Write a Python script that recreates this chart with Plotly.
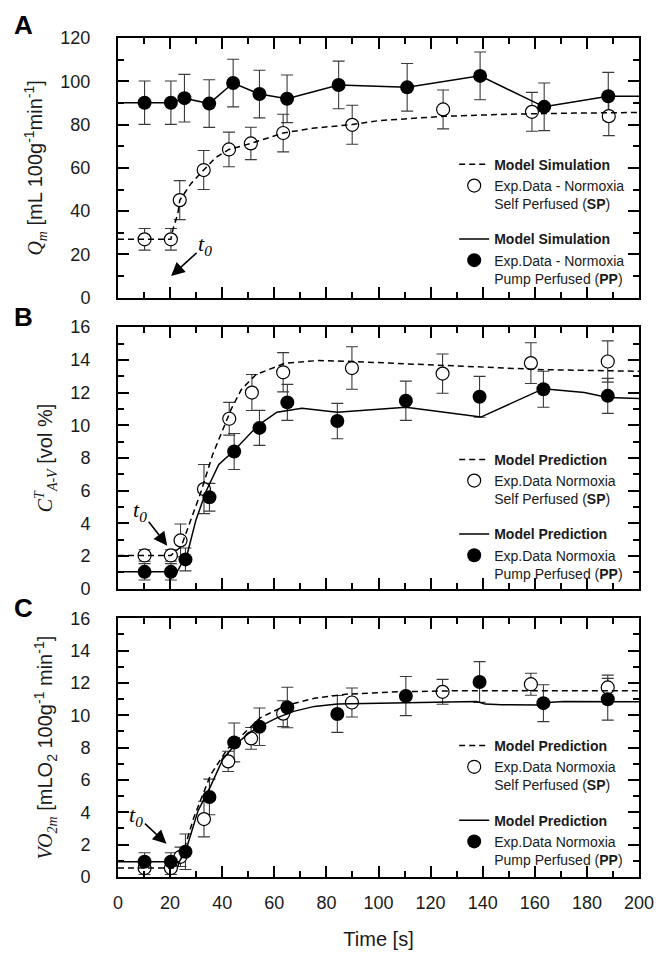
import plotly.graph_objects as go

# ---------------- data ----------------
# Panel A: muscle blood flow Q_m [mL 100g^-1 min^-1]
A_sp_t = [10.2, 20.3, 23.7, 32.9, 42.6, 51.0, 63.4, 89.9, 124.8, 158.9, 188.4]
A_sp_v = [27.0, 27.0, 45.1, 59.0, 68.5, 71.3, 76.1, 79.9, 87.0, 85.9, 83.9]
A_sp_e = [5, 5, 9, 9, 8, 7.5, 8.7, 9, 9, 9, 9]
A_pp_t = [10.2, 20.3, 25.5, 35.0, 44.2, 54.3, 64.9, 84.7, 111.0, 139.0, 163.6, 188.2]
A_pp_v = [90.1, 90.1, 92.2, 89.7, 99.2, 94.1, 91.9, 98.3, 97.2, 102.5, 88.2, 93.1]
A_pp_e = [10, 10, 11, 11, 11, 11, 11, 11, 11, 11, 11, 11]
A_msp_t = [0, 20.3, 21.1, 23.0, 23.7, 28.0, 32.9, 37.5, 42.6, 51.0, 63.4, 74.6, 89.9, 100, 125, 150, 175, 200]
A_msp_v = [27, 27, 31.6, 39, 45, 52.7, 59, 64.8, 68.5, 71.3, 76.1, 78.3, 80, 81.8, 83.8, 84.8, 85.3, 85.6]
A_mpp_t = [0, 10.2, 20.3, 25.5, 35.0, 44.2, 54.3, 64.9, 84.7, 111.0, 139.0, 163.6, 188.2, 200]
A_mpp_v = [90.1, 90.1, 90.1, 92.2, 89.7, 99.2, 94.1, 91.9, 98.3, 97.2, 102.5, 88.2, 93.1, 93.1]

# Panel B: C^T_{A-V} [vol %]
B_sp_t = [10.2, 20.3, 24.0, 33.0, 42.7, 51.4, 63.4, 89.8, 124.6, 158.5, 188.0]
B_sp_v = [2.04, 2.04, 2.96, 6.1, 10.4, 12.0, 13.24, 13.5, 13.16, 13.8, 13.9]
B_sp_e = [0.35, 0.35, 1.0, 1.5, 1.0, 1.1, 1.2, 1.3, 1.2, 1.25, 1.26]
B_pp_t = [10.2, 20.3, 25.9, 35.1, 44.6, 54.3, 65.0, 84.2, 110.5, 138.8, 163.3, 188.0]
B_pp_v = [1.04, 1.04, 1.8, 5.6, 8.4, 9.84, 11.4, 10.26, 11.5, 11.74, 12.2, 11.8]
B_pp_e = [0.5, 0.5, 0.7, 0.85, 1.1, 1.07, 1.1, 1.08, 1.2, 1.25, 1.1, 1.07]
B_msp_t = [0, 20.3, 24.3, 28.3, 32.0, 36.3, 40.3, 43.5, 47.4, 53.0, 64.2, 77.0, 89.8, 110.5, 139.3, 163.3, 200]
B_msp_v = [2.04, 2.04, 2.6, 4.4, 6.0, 8.2, 9.8, 11.0, 12.2, 13.1, 13.8, 13.96, 13.9, 13.76, 13.56, 13.4, 13.3]
B_mpp_t = [0, 22.7, 26.7, 29.9, 33.9, 38.7, 44.2, 49.0, 53.8, 61.0, 70.6, 84.2, 110.5, 139.3, 152.0, 163.3, 179.0, 188.0, 200]
B_mpp_v = [1.04, 1.04, 2.2, 4.2, 6.0, 7.6, 8.4, 9.2, 10.0, 10.8, 11.04, 10.8, 11.1, 10.5, 11.4, 12.24, 12.0, 11.7, 11.64]

# Panel C: VO2m [mLO2 100g^-1 min^-1]
C_sp_t = [10.2, 20.3, 24.0, 33.0, 42.3, 51.1, 63.4, 89.8, 124.6, 158.5, 188.0]
C_sp_v = [0.55, 0.55, 1.25, 3.58, 7.15, 8.57, 10.1, 10.79, 11.45, 11.92, 11.72]
C_sp_e = [0.4, 0.4, 0.6, 1.1, 0.63, 0.67, 0.8, 0.9, 0.77, 0.68, 0.76]
C_pp_t = [10.2, 20.3, 25.9, 35.1, 44.6, 54.3, 65.0, 84.2, 110.5, 138.8, 163.3, 188.0]
C_pp_v = [0.95, 0.95, 1.56, 4.95, 8.32, 9.29, 10.48, 10.08, 11.19, 12.06, 10.75, 10.99]
C_pp_e = [0.55, 0.55, 1.1, 1.1, 1.2, 1.16, 1.25, 1.14, 1.21, 1.26, 1.14, 1.29]
C_msp_t = [0, 22.7, 25.1, 29.1, 35.5, 41.9, 47.4, 54.6, 64.2, 75.4, 88.2, 107.3, 131.3, 200]
C_msp_v = [0.55, 0.55, 1.56, 3.68, 6.3, 7.9, 8.73, 9.84, 10.59, 11.05, 11.31, 11.45, 11.52, 11.52]
C_mpp_t = [0, 23.5, 25.9, 30.7, 35.5, 40.3, 44.6, 49.8, 54.6, 61.0, 67.4, 75.4, 84.2, 99.4, 115.3, 137.7, 140.9, 147.3, 161.7, 164.8, 171.2, 200]
C_mpp_v = [0.95, 0.95, 1.56, 4.08, 5.6, 7.3, 8.12, 8.83, 9.33, 9.84, 10.24, 10.55, 10.7, 10.75, 10.79, 10.85, 10.69, 10.65, 10.63, 10.79, 10.85, 10.83]

panel_letters = ["A", "B", "C"]
model_names = ["Model Simulation", "Model Prediction", "Model Prediction"]
sp_names = ["Exp.Data - Normoxia<br>Self Perfused (<b>SP</b>)",
            "Exp.Data Normoxia<br>Self Perfused (<b>SP</b>)",
            "Exp.Data Normoxia<br>Self Perfused (<b>SP</b>)"]
pp_names = ["Exp.Data - Normoxia<br>Pump Perfused (<b>PP</b>)",
            "Exp.Data Normoxia<br>Pump Perfused (<b>PP</b>)",
            "Exp.Data Normoxia<br>Pump Perfused (<b>PP</b>)"]
serif = "Liberation Serif, Times New Roman, serif"
ytitles = [
    f"<span style='font-family:{serif}'><i>Q</i><sub><i>m</i></sub></span> [mL 100g<sup>-1</sup>min<sup>-1</sup>]",
    f"<span style='font-family:{serif}'><i>C</i><sup><i>T</i></sup><sub><i>A-V</i></sub></span> [vol %]",
    f"<span style='font-family:{serif}'><i>VO</i><sub><i>2m</i></sub></span> [mLO<sub>2</sub> 100g<sup>-1</sup> min<sup>-1</sup>]",
]
yranges = [[0, 120], [0, 16], [0, 16]]
ydticks = [20, 2, 2]
yminor = [10, 1, 1]

panels = [
    (A_sp_t, A_sp_v, A_sp_e, A_pp_t, A_pp_v, A_pp_e, A_msp_t, A_msp_v, A_mpp_t, A_mpp_v),
    (B_sp_t, B_sp_v, B_sp_e, B_pp_t, B_pp_v, B_pp_e, B_msp_t, B_msp_v, B_mpp_t, B_mpp_v),
    (C_sp_t, C_sp_v, C_sp_e, C_pp_t, C_pp_v, C_pp_e, C_msp_t, C_msp_v, C_mpp_t, C_mpp_v),
]

# ---------------- layout geometry ----------------
W, H = 666, 959
ML, MR, MT, MB = 118, 18, 38, 65
PH = H - MT - MB  # 856
ppx = [(38, 303), (333, 600), (630, 894)]
def py(p):
    return (H - MB - p) / PH

font_main = "Liberation Sans, Arial, sans-serif"
fig = go.Figure()

err_col = "#3a3a3a"
for i, (spt, spv, spe, ppt, ppv, ppe, mst, msv, mpt, mpv) in enumerate(panels):
    xa = "x" if i == 0 else f"x{i+1}"
    ya = "y" if i == 0 else f"y{i+1}"
    lg = "legend" if i == 0 else f"legend{i+1}"
    for t, v, e in [(spt, spv, spe), (ppt, ppv, ppe)]:
        fig.add_trace(go.Scatter(x=t, y=v, mode="markers", xaxis=xa, yaxis=ya,
                                 marker=dict(size=1, color="rgba(0,0,0,0)"),
                                 error_y=dict(type="data", array=e, visible=True,
                                              color=err_col, thickness=1.1, width=6),
                                 showlegend=False, hoverinfo="skip"))
    fig.add_trace(go.Scatter(x=spt, y=spv, mode="markers", xaxis=xa, yaxis=ya,
                             name=sp_names[i], legend=lg, legendgroup=f"sp{i}", legendrank=2,
                             marker=dict(symbol="circle", size=13, color="white",
                                         line=dict(color="black", width=1.2))))
    fig.add_trace(go.Scatter(x=ppt, y=ppv, mode="markers", xaxis=xa, yaxis=ya,
                             name=pp_names[i], legend=lg, legendgroup=f"pp{i}", legendrank=4,
                             marker=dict(symbol="circle", size=14, color="black",
                                         line=dict(color="black", width=0))))
    fig.add_trace(go.Scatter(x=mst, y=msv, mode="lines", xaxis=xa, yaxis=ya,
                             name=f"<b>{model_names[i]}</b>", legend=lg, legendgroup=f"sp{i}",
                             legendrank=1,
                             line=dict(color="black", width=1.5, dash="6px,4px")))
    fig.add_trace(go.Scatter(x=mpt, y=mpv, mode="lines", xaxis=xa, yaxis=ya,
                             name=f"<b>{model_names[i]}</b>", legend=lg, legendgroup=f"pp{i}",
                             legendrank=3,
                             line=dict(color="black", width=1.5)))

layout = dict(
    width=W, height=H,
    margin=dict(l=ML, r=MR, t=MT, b=MB),
    paper_bgcolor="white", plot_bgcolor="white",
    font=dict(family=font_main, size=18, color="#1a1a1a"),
    showlegend=True,
)

legend_tops = [151, 452, 744]
for i in range(3):
    top, bot = ppx[i]
    xkey = "xaxis" if i == 0 else f"xaxis{i+1}"
    ykey = "yaxis" if i == 0 else f"yaxis{i+1}"
    ya = "y" if i == 0 else f"y{i+1}"
    xa = "x" if i == 0 else f"x{i+1}"
    common = dict(showline=True, linewidth=2, linecolor="black", mirror="ticks",
                  ticks="inside", ticklen=11, tickwidth=1.5, tickcolor="black",
                  showgrid=False, zeroline=False)
    layout[xkey] = dict(common, domain=[0, 1], range=[0, 200], dtick=20, tick0=0,
                        anchor=ya, showticklabels=(i == 2),
                        minor=dict(ticks="inside", ticklen=6, tickwidth=1.5, dtick=10,
                                   tickcolor="black", showgrid=False),
                        ticklabelstandoff=8,
                        tickfont=dict(size=18))
    if i == 2:
        layout[xkey]["title"] = dict(text="Time [s]", font=dict(size=20), standoff=20)
    layout[ykey] = dict(common, domain=[py(bot), py(top)], range=yranges[i],
                        dtick=ydticks[i], tick0=0, anchor=xa,
                        minor=dict(ticks="inside", ticklen=6, tickwidth=1.5, dtick=yminor[i],
                                   tickcolor="black", showgrid=False),
                        ticklabelstandoff=22, tickfont=dict(size=18),
                        title=dict(text=ytitles[i], font=dict(size=20), standoff=12))
    lkey = "legend" if i == 0 else f"legend{i+1}"
    layout[lkey] = dict(x=(460 - ML) / (W - ML - MR), xanchor="left",
                        y=py(legend_tops[i]), yanchor="top",
                        bgcolor="rgba(0,0,0,0)", borderwidth=0,
                        font=dict(size=14, color="#1a1a1a"),
                        traceorder="grouped", tracegroupgap=14, valign="top")

fig.update_layout(**layout)

for i, letter in enumerate(panel_letters):
    ly = [25, 323, 620][i]
    fig.add_annotation(text=f"<b>{letter}</b>", xref="paper", yref="paper",
                       x=(22 - ML) / (W - ML - MR), y=py(ly), showarrow=False,
                       xanchor="center", yanchor="middle",
                       font=dict(size=26, color="black", family=font_main))

t0_specs = [("x", "y", 20.4, 10.0, 34, -31), ("x2", "y2", 18.9, 2.64, -27, -35),
            ("x3", "y3", 18.6, 2.06, -30, -28)]
for xa, ya, tx, ty, axo, ayo in t0_specs:
    fig.add_annotation(text=f"<span style='font-family:{serif}'><i>t</i><sub><i>0</i></sub></span>",
                       xref=xa, yref=ya, x=tx, y=ty, ax=axo, ay=ayo,
                       showarrow=True, arrowhead=2, arrowsize=1.7, arrowwidth=1.6,
                       arrowcolor="black", font=dict(size=22, color="black"))

fig.write_html("out.html")
